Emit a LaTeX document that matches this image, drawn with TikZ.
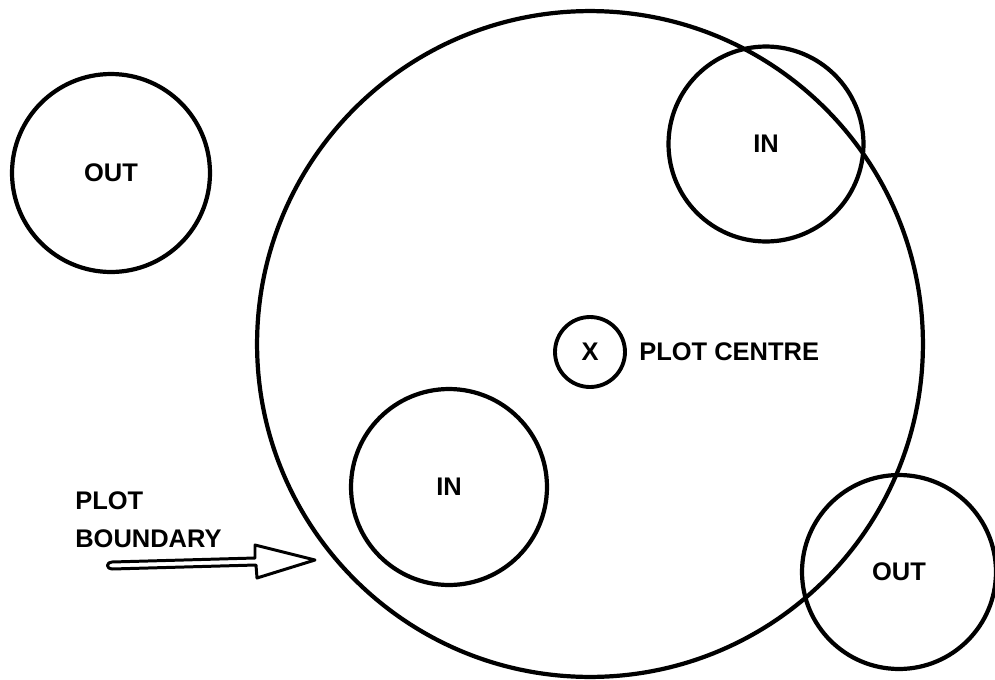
\documentclass[tikz,border=0pt]{standalone}
\usepackage{fontspec}
\setmainfont{Liberation Sans}
\begin{document}
\begin{tikzpicture}[x=0.02cm,y=-0.02cm,
  ring/.style={draw,circle,line width=2.4pt,inner sep=0pt},
  lbl/.style={font=\bfseries\fontsize{14.5}{22}\selectfont,inner sep=0pt}]
\useasboundingbox (0,0) rectangle (995,680);

% plot boundary
\node[ring,minimum size=13.32cm] (plot) at (590,344) {};

% plot centre marker
\node[ring,minimum size=1.4cm,lbl,line width=2.2pt] (centre) at (590,352) {X};
\node[lbl,anchor=west] (centrelbl) at (639,352) {PLOT CENTRE};

% trees inside / outside the plot
\node[ring,minimum size=3.96cm,lbl] (outA) at (111,173) {OUT};
\node[ring,minimum size=3.9cm,lbl] (inA) at (766,144) {IN};
\node[ring,minimum size=3.92cm,lbl] (inB) at (449,487) {IN};
\node[ring,minimum size=3.88cm,lbl] (outB) at (899,572) {OUT};

% boundary label with hollow arrow
\node[lbl,align=left,anchor=north west] (boundlbl) at (75,491) {PLOT\\BOUNDARY};
\coordinate (tail) at (112,565);
\coordinate (tip) at (315,560);
\draw[line width=1.7pt,fill=white,line join=round]
  (tip) -- (255,545) -- (255,558) -- (112,562)
  .. controls (106,562) and (106,569) .. (112,569)
  -- (256,565) -- (257,578) -- cycle;
\end{tikzpicture}
\end{document}
